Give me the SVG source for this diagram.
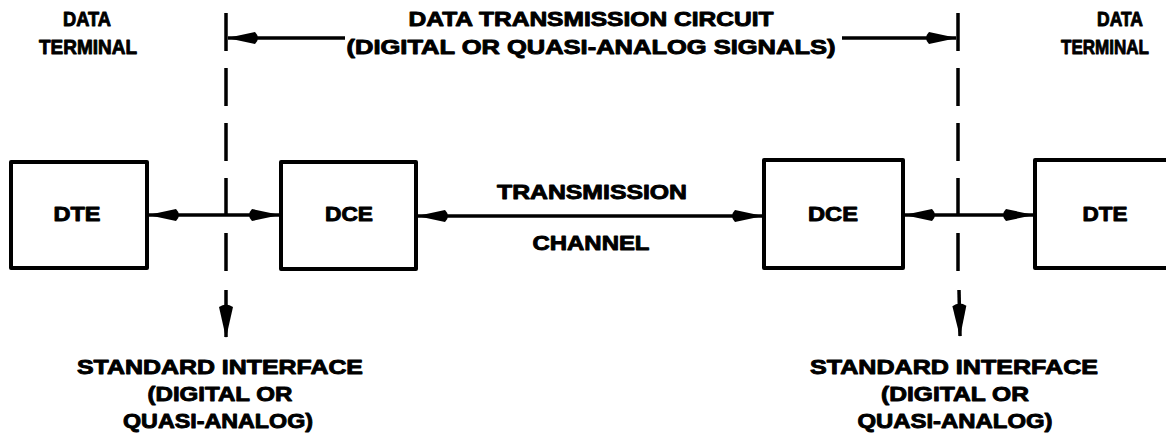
<svg xmlns="http://www.w3.org/2000/svg" width="1166" height="437" viewBox="0 0 1166 437">
  <style>
    .t { font-family: "Liberation Sans", Arial, sans-serif; font-weight: bold; font-size: 20px; text-anchor: middle; fill: #000; stroke: #000; stroke-width: 0.9; stroke-linejoin: round; }
    .box { fill: #fff; stroke: #000; stroke-width: 4; stroke-linejoin: round; }
    .ln { stroke: #000; stroke-width: 3.5; fill: none; }
    .dash { stroke: #000; stroke-width: 3.5; fill: none; stroke-dasharray: 38 17; }
  </style>
  <defs>
    <marker id="ah" viewBox="0 0 34 14" refX="33" refY="7" markerWidth="34" markerHeight="14" markerUnits="userSpaceOnUse" orient="auto-start-reverse">
      <path d="M34,7 L6,1 Q0,7 6,13 Z" fill="#000"/>
    </marker>
    <marker id="ahd" viewBox="0 0 36 15" refX="35" refY="7.5" markerWidth="36" markerHeight="15" markerUnits="userSpaceOnUse" orient="auto">
      <path d="M36,7.5 L5,0.5 Q0,7.5 5,14.5 Z" fill="#000"/>
    </marker>
  </defs>
  <rect width="1166" height="437" fill="#fff"/>

  <g id="connectors">
    <line class="dash" x1="226" y1="13" x2="226" y2="273"/>
    <line class="ln" x1="226" y1="290" x2="226" y2="337" marker-end="url(#ahd)"/>
    <line class="dash" x1="958" y1="13" x2="958" y2="273"/>
    <line class="ln" x1="959" y1="290" x2="960" y2="336" marker-end="url(#ahd)"/>
    <line class="ln" x1="345" y1="38" x2="228" y2="38" marker-end="url(#ah)"/>
    <line class="ln" x1="842" y1="38" x2="956" y2="38" marker-end="url(#ah)"/>
    <line class="ln" x1="149" y1="215" x2="279" y2="215" marker-start="url(#ah)" marker-end="url(#ah)"/>
    <line class="ln" x1="418" y1="216" x2="762" y2="216" marker-start="url(#ah)" marker-end="url(#ah)"/>
    <line class="ln" x1="905" y1="215" x2="1033" y2="215" marker-start="url(#ah)" marker-end="url(#ah)"/>
  </g>

  <g id="dte-left">
    <rect class="box" x="11" y="162" width="136" height="106"/>
    <text class="t" x="77" y="221" textLength="47" lengthAdjust="spacingAndGlyphs">DTE</text>
  </g>
  <g id="dce-left">
    <rect class="box" x="281" y="162" width="135" height="107"/>
    <text class="t" x="349" y="221" textLength="48" lengthAdjust="spacingAndGlyphs">DCE</text>
  </g>
  <g id="dce-right">
    <rect class="box" x="764" y="160" width="139" height="108"/>
    <text class="t" x="833" y="221" textLength="50" lengthAdjust="spacingAndGlyphs">DCE</text>
  </g>
  <g id="dte-right">
    <rect class="box" x="1035" y="160" width="150" height="108"/>
    <text class="t" x="1105" y="221" textLength="45" lengthAdjust="spacingAndGlyphs">DTE</text>
  </g>

  <g id="label-terminal-left">
    <text class="t" x="87" y="26" textLength="48" lengthAdjust="spacingAndGlyphs">DATA</text>
    <text class="t" x="88" y="54" textLength="98" lengthAdjust="spacingAndGlyphs">TERMINAL</text>
  </g>
  <g id="label-terminal-right">
    <text class="t" x="1120" y="26" textLength="46" lengthAdjust="spacingAndGlyphs">DATA</text>
    <text class="t" x="1105" y="54" textLength="88" lengthAdjust="spacingAndGlyphs">TERMINAL</text>
  </g>
  <g id="label-circuit">
    <text class="t" x="591" y="26" textLength="365" lengthAdjust="spacingAndGlyphs">DATA TRANSMISSION CIRCUIT</text>
    <text class="t" x="591" y="54" textLength="489" lengthAdjust="spacingAndGlyphs">(DIGITAL OR QUASI-ANALOG SIGNALS)</text>
  </g>
  <g id="label-channel">
    <text class="t" x="592" y="199" textLength="190" lengthAdjust="spacingAndGlyphs">TRANSMISSION</text>
    <text class="t" x="591" y="250" textLength="117" lengthAdjust="spacingAndGlyphs">CHANNEL</text>
  </g>
  <g id="label-interface-left">
    <text class="t" x="220" y="374" textLength="286" lengthAdjust="spacingAndGlyphs">STANDARD INTERFACE</text>
    <text class="t" x="220" y="401" textLength="145" lengthAdjust="spacingAndGlyphs">(DIGITAL OR</text>
    <text class="t" x="218" y="428" textLength="190" lengthAdjust="spacingAndGlyphs">QUASI-ANALOG)</text>
  </g>
  <g id="label-interface-right">
    <text class="t" x="954" y="374" textLength="288" lengthAdjust="spacingAndGlyphs">STANDARD INTERFACE</text>
    <text class="t" x="955" y="401" textLength="148" lengthAdjust="spacingAndGlyphs">(DIGITAL OR</text>
    <text class="t" x="955" y="428" textLength="195" lengthAdjust="spacingAndGlyphs">QUASI-ANALOG)</text>
  </g>
</svg>
